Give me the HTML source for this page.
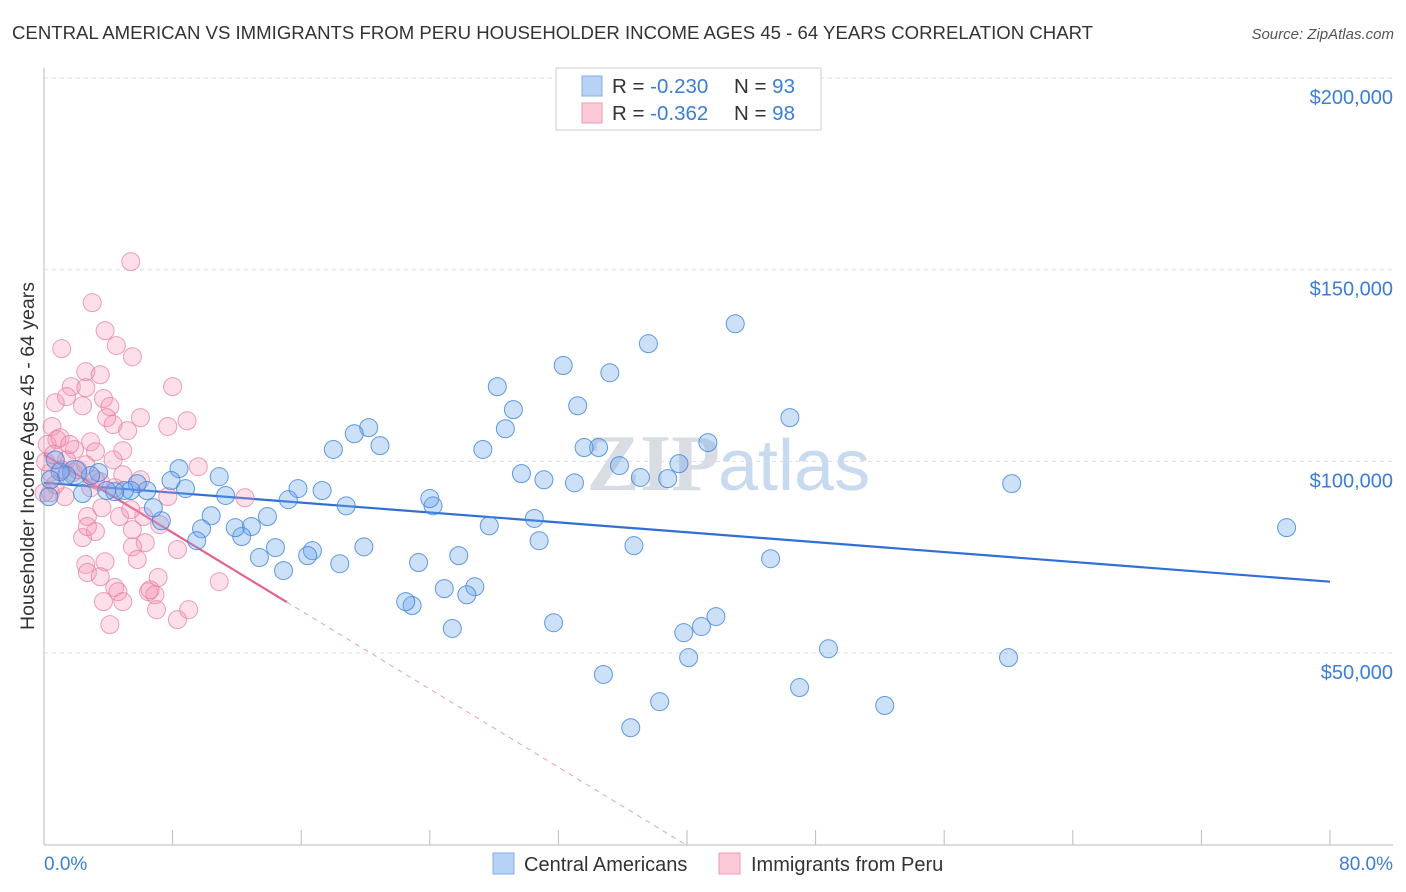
<!DOCTYPE html>
<html><head><meta charset="utf-8"><style>
body{margin:0;background:#fff;font-family:"Liberation Sans",sans-serif}
svg{display:block}
</style></head><body>
<svg id="c" width="1406" height="892">
<text x="12" y="39" font-size="18.6" fill="#333">CENTRAL AMERICAN VS IMMIGRANTS FROM PERU HOUSEHOLDER INCOME AGES 45 - 64 YEARS CORRELATION CHART</text>
<text x="1394" y="39" font-size="15" fill="#555" font-style="italic" text-anchor="end">Source: ZipAtlas.com</text>
<text x="0" y="0" transform="translate(34,456) rotate(-90)" font-size="19.5" fill="#333" text-anchor="middle">Householder Income Ages 45 - 64 years</text>
<text x="720" y="490" font-size="80" fill="#d8dde4" text-anchor="end" font-family="Liberation Serif,serif" font-weight="bold">ZIP</text>
<text x="718" y="490" font-size="72" fill="#c8daf0">atlas</text>
<g id="grid"></g><g id="axes"></g><g id="trend"></g><g id="pts"></g>
<g>
<rect x="556" y="68" width="265" height="62" fill="#fff" stroke="#ccc"/>
<rect x="582" y="76" width="20" height="20" fill="#b7d2f4" stroke="#7eaee8"/>
<rect x="582" y="103" width="20" height="20" fill="#fcc9d8" stroke="#ee9cb6"/>
<text x="612" y="93" font-size="20.5" fill="#333">R = <tspan fill="#3b7dd8">-0.230</tspan><tspan x="734">N = </tspan><tspan fill="#3b7dd8">93</tspan></text>
<text x="612" y="120" font-size="20.5" fill="#333">R = <tspan fill="#3b7dd8"> -0.362</tspan><tspan x="734">N = </tspan><tspan fill="#3b7dd8">98</tspan></text>
</g>
<g>
<rect x="493" y="853" width="21" height="21" fill="#b7d2f4" stroke="#7eaee8"/>
<text x="524" y="871" font-size="20" fill="#333">Central Americans</text>
<rect x="719" y="853" width="21" height="21" fill="#fcc9d8" stroke="#ee9cb6"/>
<text x="751" y="871" font-size="20" fill="#333">Immigrants from Peru</text>
</g>
<text x="44" y="870" font-size="19" fill="#3b7dd8">0.0%</text>
<text x="1393" y="870" font-size="19" fill="#3b7dd8" text-anchor="end">80.0%</text>
</svg>
<script>
const yTicks=[50000,100000,150000,200000];
const yTickLabels=["$50,000","$100,000","$150,000","$200,000"];
const xTicks=[0,8,16,24,32,40,48,56,64,72,80];
const blueX=[77.3,60.2,60.0,52.3,48.8,47.0,46.4,45.2,43.0,41.8,41.3,40.9,40.1,39.8,39.5,38.8,38.3,37.6,37.1,36.7,36.5,35.8,35.2,34.8,34.5,33.6,33.2,33.0,32.3,31.7,31.1,30.8,30.5,29.7,28.7,28.2,29.2,27.7,27.3,26.8,26.3,25.8,25.4,24.9,24.2,24.0,23.3,22.9,22.5,20.9,20.2,19.9,19.3,18.4,18.0,18.8,17.3,16.7,16.4,15.8,15.2,14.9,14.4,13.9,13.4,12.9,12.3,11.9,11.3,10.9,10.4,9.8,9.5,8.8,8.4,7.9,7.3,6.8,6.4,5.8,5.4,5.0,4.4,3.9,3.4,2.9,2.4,1.9,1.4,1.0,0.7,0.4,0.3];
const blueY=[82.7,94.2,48.8,36.3,51.1,41.0,111.4,74.6,135.9,59.5,104.9,56.9,48.8,55.3,99.4,95.5,37.3,130.7,95.8,78.0,30.5,98.9,123.1,44.4,103.6,103.6,114.5,94.4,125.0,57.9,95.2,79.3,85.1,96.8,108.5,119.5,113.5,83.2,103.1,67.3,65.2,75.4,56.4,66.8,88.4,90.3,73.6,62.4,63.4,104.1,108.8,77.7,107.2,73.3,103.1,88.4,92.4,76.7,75.4,92.9,90.0,71.5,77.5,85.6,74.9,83.0,80.4,82.7,91.1,96.0,85.8,82.4,79.3,92.9,98.1,95.0,84.5,87.9,92.4,94.2,92.4,92.4,92.1,92.4,97.1,96.3,91.6,97.1,96.3,97.3,100.4,95.2,90.8];
const pinkX=[5.4,3.0,3.8,4.5,5.5,1.1,2.6,3.5,1.7,2.6,0.7,1.4,2.4,3.7,4.1,8.0,6.0,8.9,7.7,3.9,4.3,5.2,0.5,0.8,2.9,3.2,4.9,4.3,1.9,9.6,1.4,0.4,1.8,4.9,0.4,1.3,3.5,4.4,3.6,4.7,2.7,6.2,7.7,12.5,2.4,3.2,2.7,5.5,6.3,5.5,5.8,8.3,2.6,3.8,2.7,3.5,4.4,4.6,4.9,3.7,6.5,6.9,7.1,7.0,9.0,8.3,4.1,10.9,6.6,0.1,0.2,0.6,1.0,1.6,2.1,2.6,1.1,0,0.7,2.9,3.2,5.4,6.0,7.2];
const pinkY=[152.1,141.4,134.1,130.2,127.3,129.4,123.4,122.6,119.5,119.2,115.3,116.9,114.5,116.4,114.3,119.5,111.4,110.6,109.1,111.4,109.6,108.0,109.1,105.7,105.1,102.5,102.8,100.4,103.1,98.6,100.4,97.1,97.1,96.5,91.8,90.8,94.7,93.1,87.9,85.6,85.6,85.6,90.8,90.5,80.1,81.7,83.0,82.2,78.8,77.7,74.4,77.0,73.1,73.8,71.0,69.9,67.1,66.0,63.4,63.4,66.0,65.2,69.7,61.3,61.3,58.7,57.4,68.6,66.5,99.9,104.4,101.8,106.2,104.4,97.8,99.1,97.8,91.8,93.9,93.1,95.2,87.4,95.2,83.5];
const blueTrend=[94.4,68.6]; // y(k) at x=0 and x=80
const pinkTrend=[101.8,-2.55]; // intercept(k), slope per %
const pinkSolidEnd=15.1;
const NS="http://www.w3.org/2000/svg";
const X=v=>44+v/80*1286;
const Y=k=>653-(k-50)*3.833;
function mk(t,a,p){const e=document.createElementNS(NS,t);for(const k in a)e.setAttribute(k,a[k]);p.appendChild(e);return e;}
const grid=document.getElementById('grid'),axes=document.getElementById('axes'),trend=document.getElementById('trend'),pts=document.getElementById('pts');
yTicks.forEach((v,i)=>{const y=Y(v/1000);
const l=mk('line',{x1:44,x2:1393,y1:y,y2:y,stroke:'#ddd','stroke-dasharray':'4,4'},grid);


const t=mk('text',{x:1393,y:y+26,'font-size':20,fill:'#3b7dd8','text-anchor':'end'},grid);t.textContent=yTickLabels[i];

});
mk('line',{x1:44,x2:44,y1:68,y2:845,stroke:'#bbb'},axes);
mk('line',{x1:44,x2:1393,y1:845,y2:845,stroke:'#bbb'},axes);
xTicks.forEach(v=>{const t=mk('line',{x1:X(v),x2:X(v),y1:830,y2:845,stroke:'#bbb'},axes);

});
const bl=mk('line',{x1:X(0),y1:Y(blueTrend[0]),x2:X(80),y2:Y(blueTrend[1]),stroke:'#2f6fd6','stroke-width':2.2},trend);


const pz=-pinkTrend[0]/pinkTrend[1];
const pd=mk('line',{x1:X(pinkSolidEnd),y1:Y(pinkTrend[0]+pinkTrend[1]*pinkSolidEnd),x2:X(pz),y2:Y(0),stroke:'#e8a0b8','stroke-width':1,'stroke-dasharray':'5,5'},trend);


const ps=mk('line',{x1:X(0),y1:Y(pinkTrend[0]),x2:X(pinkSolidEnd),y2:Y(pinkTrend[0]+pinkTrend[1]*pinkSolidEnd),stroke:'#e5608c','stroke-width':2.2},trend);


pinkX.forEach((x,i)=>{const c=mk('circle',{cx:X(x),cy:Y(pinkY[i]),r:9,fill:'rgba(244,150,180,0.3)',stroke:'rgba(230,120,160,0.7)','stroke-width':1},pts);

});
blueX.forEach((x,i)=>{const c=mk('circle',{cx:X(x),cy:Y(blueY[i]),r:i==blueX.length-6?12:9,fill:'rgba(110,165,235,0.35)',stroke:'rgba(60,130,220,0.8)','stroke-width':1},pts);

});
</script>
</body></html>
